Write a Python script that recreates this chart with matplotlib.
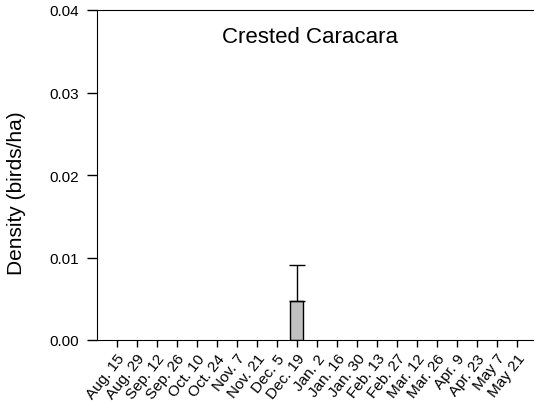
import numpy as np
import matplotlib
matplotlib.use('Agg')
import matplotlib.pyplot as plt
import matplotlib.transforms as mtransforms

plt.rcParams['font.family'] = ['Liberation Sans', 'DejaVu Sans']

dates = ['Aug. 15', 'Aug. 29', 'Sep. 12', 'Sep. 26', 'Oct. 10', 'Oct. 24',
         'Nov. 7', 'Nov. 21', 'Dec. 5', 'Dec. 19', 'Jan. 2', 'Jan. 16',
         'Jan. 30', 'Feb. 13', 'Feb. 27', 'Mar. 12', 'Mar. 26', 'Apr. 9',
         'Apr. 23', 'May 7', 'May 21']
density = [0, 0, 0, 0, 0, 0, 0, 0, 0, 0.0047, 0, 0, 0, 0, 0, 0, 0, 0, 0, 0, 0]
err = [0, 0, 0, 0, 0, 0, 0, 0, 0, 0.0044, 0, 0, 0, 0, 0, 0, 0, 0, 0, 0, 0]

fig = plt.figure(figsize=(5.34, 4.14), dpi=100)
ax = fig.add_axes([96.7 / 534, 1 - 341 / 414, 440 / 534, 330 / 414])

x = np.arange(len(density))
nz = [i for i in x if density[i] > 0]
ax.bar([x[i] for i in nz], [density[i] for i in nz], width=0.63,
       color='#c0c0c0', edgecolor='black', linewidth=1, zorder=2)
ax.errorbar([x[i] for i in nz], [density[i] for i in nz],
            yerr=[[0] * len(nz), [err[i] for i in nz]], fmt='none',
            ecolor='black', elinewidth=1, capsize=5.8, capthick=1, zorder=3)

ax.set_xlim(-1, 21)
ax.set_ylim(0, 0.04)
ax.set_yticks([0, 0.01, 0.02, 0.03, 0.04])
ax.set_yticklabels(['0.00', '0.01', '0.02', '0.03', '0.04'], fontsize=11)
ax.set_xticks(x)
ax.set_xticklabels(dates, fontsize=11, rotation=52, ha='right', va='top',
                   rotation_mode='anchor')
shift = mtransforms.ScaledTranslation(8 / 100, 0, fig.dpi_scale_trans)
for lab in ax.get_xticklabels():
    lab.set_transform(lab.get_transform() + shift)
ax.tick_params(axis='y', direction='out', length=7, width=1, colors='black',
               pad=6)
ax.tick_params(axis='x', direction='out', length=5, width=1, colors='black',
               pad=3)
ax.spines['right'].set_visible(False)
ax.set_ylabel('Density (birds/ha)', fontsize=15)
ax.yaxis.set_label_coords(-0.161, 0.447)
ax.text(0.485, 0.92, 'Crested Caracara', transform=ax.transAxes,
        ha='center', va='center', fontsize=16)

fig.savefig('out.png', dpi=100)
